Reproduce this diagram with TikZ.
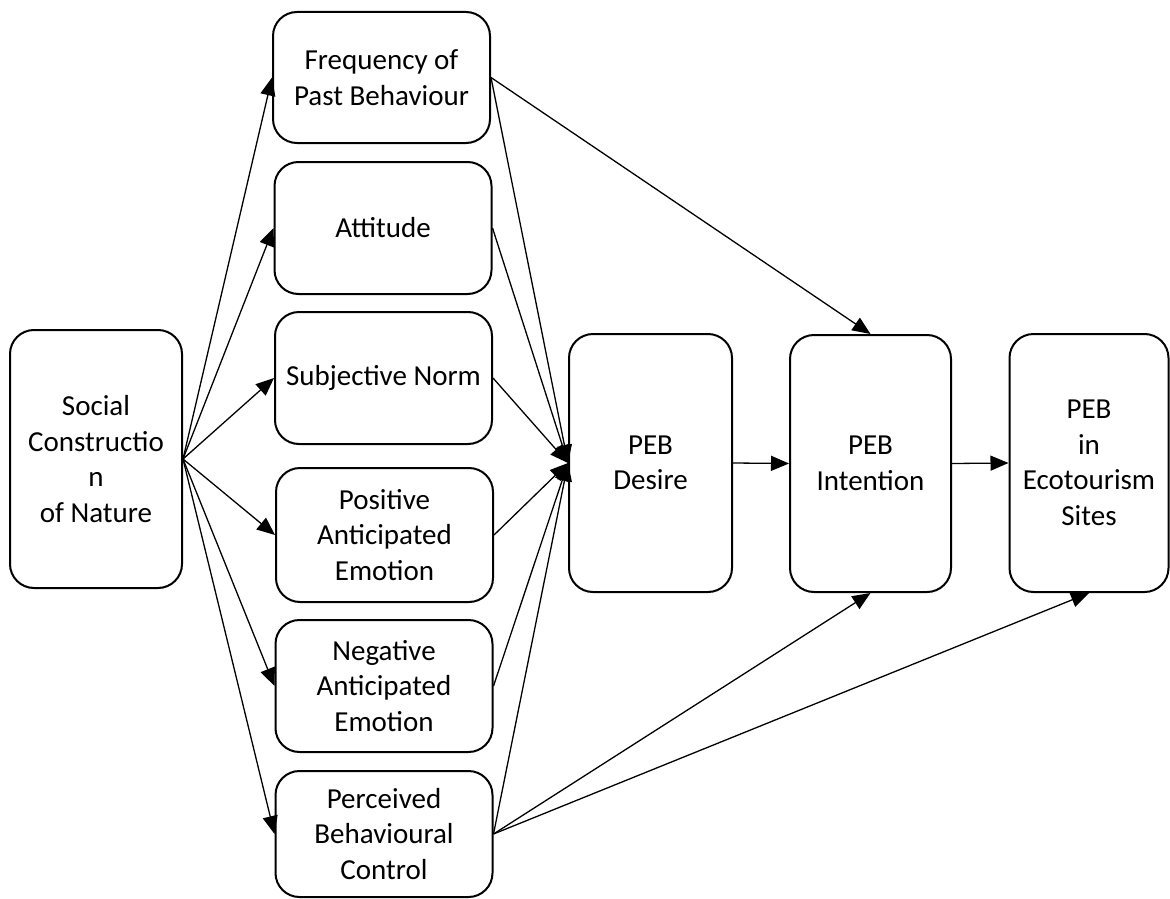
\documentclass[tikz,border=0pt]{standalone}
\usepackage{fontspec}
\setmainfont{Carlito}
\usetikzlibrary{arrows.meta}
\begin{document}
\begin{tikzpicture}[x=1pt,y=-1pt,
  box/.style={draw=black, line width=2pt, rounded corners=24pt, align=center,
    inner sep=0pt, font=\fontsize{29}{35.5}\selectfont},
  conn/.style={draw=black, line width=1.3pt, -{Triangle[length=18pt,width=15pt]}}]
\useasboundingbox (0,0) rectangle (1170,899);
\node[box, minimum width=172pt, minimum height=258pt] (soc) at (96,459) {Social\\Constructio\\n\\of Nature};
\node[box, minimum width=217pt, minimum height=131pt] (freq) at (381.5,77.5) {Frequency of\\Past Behaviour};
\node[box, minimum width=217pt, minimum height=132pt] (att) at (383,228) {Attitude};
\node[box, minimum width=217pt, minimum height=132pt] (subj) at (383.5,378) {Subjective Norm};
\node[box, minimum width=217pt, minimum height=134pt] (pos) at (384.5,535) {Positive\\Anticipated\\Emotion};
\node[box, minimum width=217pt, minimum height=132pt] (neg) at (384,686) {Negative\\Anticipated\\Emotion};
\node[box, minimum width=217pt, minimum height=126pt] (pbc) at (384,834) {Perceived\\Behavioural\\Control};
\node[box, minimum width=163pt, minimum height=258pt] (des) at (650.5,463) {PEB\\Desire};
\node[box, minimum width=161pt, minimum height=257pt] (int) at (870.5,463.5) {PEB\\Intention};
\node[box, minimum width=159pt, minimum height=258pt] (eco) at (1089,463) {PEB\\in\\Ecotourism\\Sites};
\foreach \t in {freq,att,subj,pos,neg,pbc}{
  \draw[conn] (soc.east) -- (\t.west);
  \draw[conn] (\t.east) -- (des.west);
}
\draw[conn] (freq.east) -- (int.north);
\draw[conn] (pbc.east) -- (int.south);
\draw[conn] (pbc.east) -- (eco.south);
\draw[conn] (des.east) -- (int.west);
\draw[conn] (int.east) -- (eco.west);
\end{tikzpicture}
\end{document}
